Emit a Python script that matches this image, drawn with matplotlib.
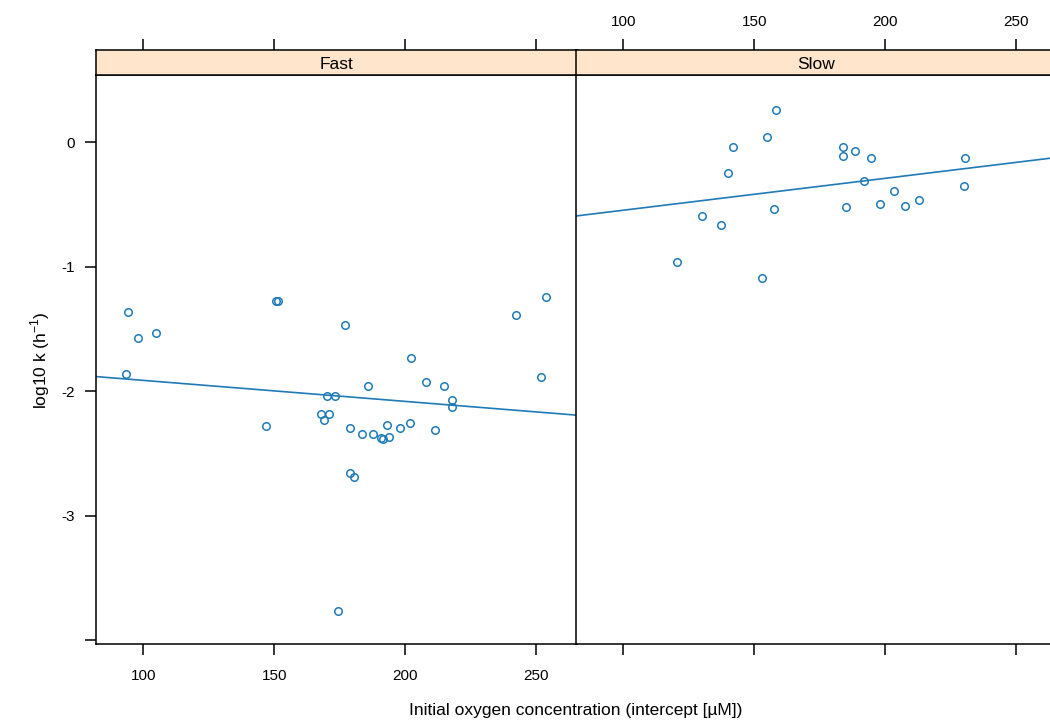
import numpy as np
import matplotlib.pyplot as plt

plt.rcParams['font.family'] = ['Liberation Sans', 'DejaVu Sans']
plt.rcParams['axes.unicode_minus'] = False

# data
panels = ['Fast', 'Slow']

fast_o2 = [94.0, 98.1, 104.8, 93.4, 150.6, 151.4, 177.0, 202.4, 146.7, 185.8,
           208.0, 214.8, 218.1, 218.1, 242.4, 253.8, 251.8, 170.2, 173.1, 167.7,
           169.0, 170.8, 179.0, 183.7, 187.8, 190.8, 191.6, 193.9, 193.1, 197.9,
           201.9, 211.5, 174.2, 178.9, 180.5]
fast_logk = [-1.361, -1.574, -1.529, -1.859, -1.272, -1.272, -1.470, -1.730, -2.281, -1.955,
             -1.928, -1.955, -2.070, -2.129, -1.385, -1.245, -1.883, -2.040, -2.040, -2.182,
             -2.228, -2.182, -2.297, -2.341, -2.341, -2.378, -2.385, -2.365, -2.268, -2.297,
             -2.252, -2.311, -3.762, -2.659, -2.691]

slow_o2 = [158.2, 154.9, 142.0, 140.1, 183.8, 183.8, 188.5, 194.6, 192.0, 230.5,
           230.1, 203.4, 198.0, 207.5, 212.9, 185.2, 157.6, 129.9, 137.3, 120.4, 152.8]
slow_logk = [0.259, 0.045, -0.040, -0.249, -0.040, -0.108, -0.067, -0.126, -0.308, -0.126,
             -0.351, -0.391, -0.493, -0.509, -0.461, -0.522, -0.536, -0.592, -0.664, -0.964, -1.088]

# fitted lines (intercept, slope) as drawn in the reference
fast_fit = [-1.744, -0.001687]
slow_fit = [-0.802, 0.00256]

xlim = (81.9, 265.6)
ylim = (-4.03, 0.54)
xticks = [100, 150, 200, 250]
yticks = [0, -1, -2, -3, -4]
ylabels = ['0', '-1', '-2', '-3', '']

col = '#1f7ab8'
W, H = 1050, 722

fig = plt.figure(figsize=(W / 100, H / 100), dpi=100)

def px(x0, y_top, w, h):
    return [x0 / W, 1 - (y_top + h) / H, w / W, h / H]

pw = 480.7
lefts = [96, 576]
data = [(fast_o2, fast_logk, fast_fit), (slow_o2, slow_logk, slow_fit)]

for i, (name, (xs, ys, fit)) in enumerate(zip(panels, data)):
    ax = fig.add_axes(px(lefts[i], 75, pw, 569))
    ax.plot(xs, ys, 'o', ms=5.4, mfc='none', mec=col, mew=1.1)
    xx = np.array(xlim)
    ax.plot(xx, fit[0] + fit[1] * xx, color=col, lw=1.2)
    ax.set_xlim(xlim)
    ax.set_ylim(ylim)
    ax.set_xticks(xticks)
    ax.set_yticks(yticks)
    for s in ax.spines.values():
        s.set_linewidth(1.1)
    ax.tick_params(direction='out', length=8, width=1.1, labelsize=11, pad=7)
    ax.tick_params(axis='x', pad=10)
    if i == 0:
        ax.set_yticklabels(ylabels)
    else:
        ax.yaxis.tick_right()
        ax.set_yticklabels([])
        ax.set_xticklabels([])

    st = fig.add_axes(px(lefts[i], 50, pw, 25))
    st.set_facecolor('#ffe5cc')
    st.set_xlim(xlim)
    st.set_ylim(0, 1)
    st.set_yticks([])
    st.xaxis.tick_top()
    st.set_xticks(xticks)
    for s in st.spines.values():
        s.set_linewidth(1.1)
    st.tick_params(direction='out', length=8, width=1.1, labelsize=11, pad=7)
    if i == 0:
        st.set_xticklabels([])
    st.text(0.5, 0.42, name, transform=st.transAxes, ha='center', va='center', fontsize=12.5)

fig.text(576 / W, 1 - 710 / H, 'Initial oxygen concentration (intercept [\u00b5M])',
         ha='center', va='center', fontsize=12.5)
fig.text(40 / W, 1 - 360 / H, 'log10 k (h$^{\\mathregular{-1}}$)', rotation=90,
         ha='center', va='center', fontsize=12.5)

fig.savefig('out.png', dpi=100)
